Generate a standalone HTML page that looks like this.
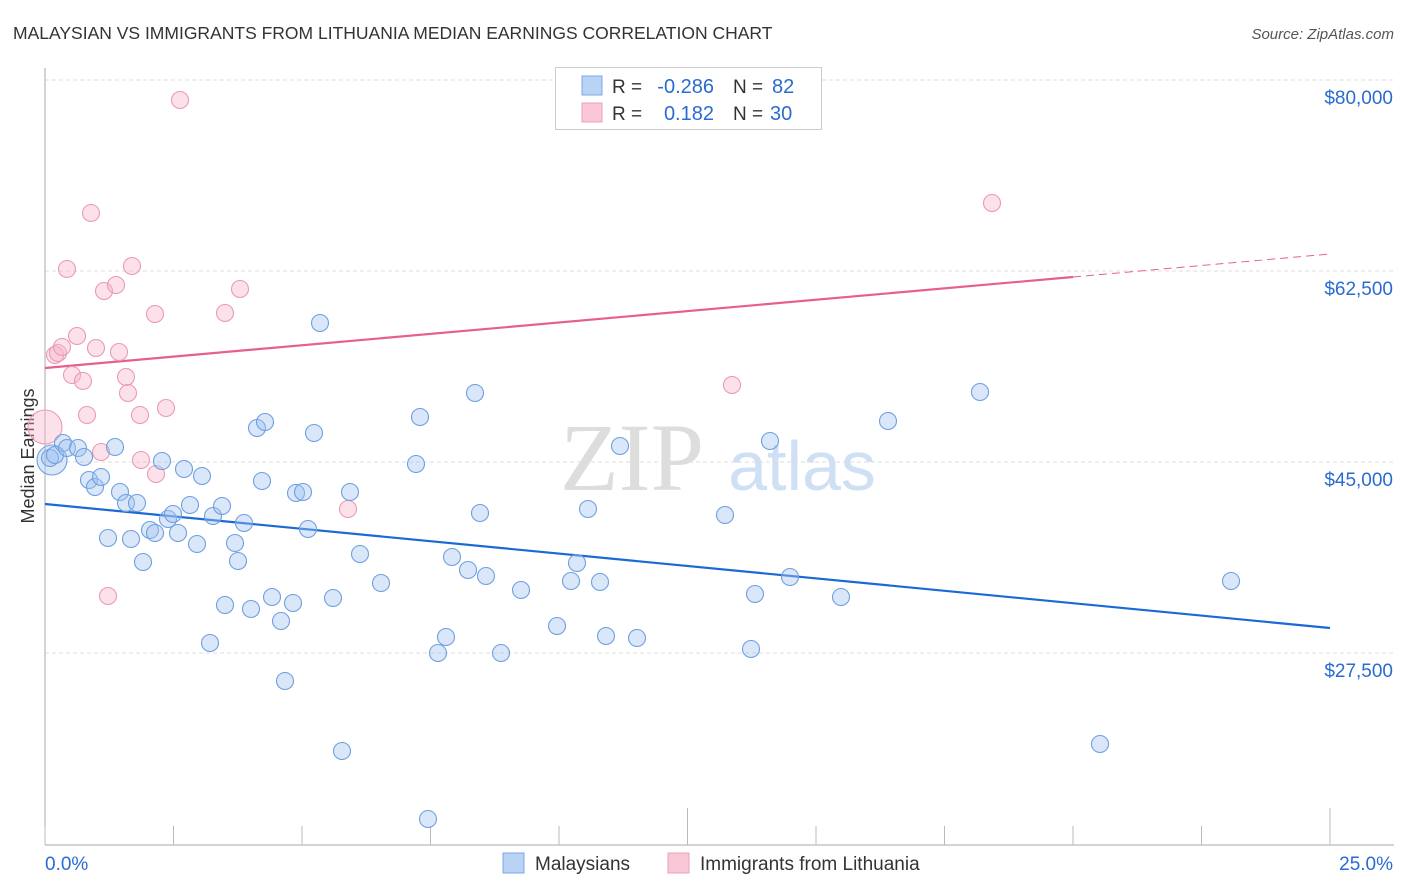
<!DOCTYPE html>
<html><head><meta charset="utf-8"><style>
body{margin:0;background:#fff;font-family:"Liberation Sans",sans-serif;}
svg{display:block}
</style></head><body>
<svg id="chart" width="1406" height="892">
<text x="13" y="39" font-size="17.5" fill="#333">MALAYSIAN VS IMMIGRANTS FROM LITHUANIA MEDIAN EARNINGS CORRELATION CHART</text>
<text x="1394" y="39" font-size="15" fill="#555" font-style="italic" text-anchor="end">Source: ZipAtlas.com</text>
<text x="34" y="456" font-size="18" fill="#333" text-anchor="middle" transform="rotate(-90 34 456)">Median Earnings</text>
<g>
<text x="632" y="490" font-family="Liberation Serif,serif" font-size="96" fill="#ddd" text-anchor="middle">ZIP</text>
<text x="802" y="490" font-size="70" fill="#cfe0f5" text-anchor="middle">atlas</text>
</g>
<g id="grid"></g><g id="axes"></g><g id="trend"></g><g id="pts"></g>
<g>
<rect x="555.5" y="67.5" width="266" height="62" fill="#fff" stroke="#ccc"/>
<rect x="582" y="76" width="20" height="19" fill="#b9d3f5" stroke="#7aa7e6"/>
<rect x="582" y="103" width="20" height="19" fill="#f9c7d6" stroke="#eaa2bb"/>
<text x="612" y="93" font-size="19" fill="#333">R =</text>
<text x="714" y="93" font-size="20" fill="#2a6bd1" text-anchor="end">-0.286</text>
<text x="733" y="93" font-size="19" fill="#333">N =</text>
<text x="772" y="93" font-size="20" fill="#2a6bd1">82</text>
<text x="612" y="120" font-size="19" fill="#333">R =</text>
<text x="714" y="120" font-size="20" fill="#2a6bd1" text-anchor="end">0.182</text>
<text x="733" y="120" font-size="19" fill="#333">N =</text>
<text x="770" y="120" font-size="20" fill="#2a6bd1">30</text>
</g>
<g>
<rect x="503" y="853" width="21" height="20" fill="#b9d3f5" stroke="#7aa7e6"/>
<text x="535" y="870" font-size="19" fill="#333">Malaysians</text>
<rect x="668" y="853" width="21" height="20" fill="#f9c7d6" stroke="#eaa2bb"/>
<text x="700" y="870" font-size="19" fill="#333">Immigrants from Lithuania</text>
</g>
</svg>
<script>
const yTicks=[80000,62500,45000,27500];
const yTickLabels=["$80,000","$62,500","$45,000","$27,500"];
const xTicks=[0,2.5,5,7.5,10,12.5,15,17.5,20,22.5,25];
const xLabels=[["0.0%",0],["25.0%",25]];
// pixel-estimated points, stored as [x%, value]
const bluePx=[[50,458],[55,455],[63,443],[67,448],[78,448],[84,457],[115,447],[89,480],[95,487],[101,477],[120,492],[126,503],[137,503],[108,538],[131,539],[143,562],[150,530],[155,533],[162,461],[168,519],[173,514],[178,533],[184,469],[190,505],[197,544],[202,476],[210,643],[213,516],[222,506],[225,605],[235,543],[238,561],[244,523],[251,609],[257,428],[262,481],[265,422],[272,597],[281,621],[285,681],[293,603],[296,493],[303,492],[308,529],[314,433],[320,323],[333,598],[342,751],[350,492],[360,554],[381,583],[416,464],[420,417],[428,819],[438,653],[446,637],[452,557],[468,570],[475,393],[480,513],[486,576],[501,653],[521,590],[557,626],[571,581],[577,563],[588,509],[600,582],[606,636],[620,446],[637,638],[725,515],[751,649],[755,594],[770,441],[790,577],[841,597],[888,421],[980,392],[1100,744],[1231,581]];
const pinkPx=[[55,355],[58,353],[62,347],[67,269],[72,375],[77,336],[83,381],[87,415],[91,213],[96,348],[101,452],[104,291],[108,596],[116,285],[119,352],[126,377],[128,393],[132,266],[140,415],[141,460],[155,314],[156,474],[166,408],[180,100],[225,313],[240,289],[348,509],[732,385],[992,203]];
const X0=45,X1=1330,Y80=80,PPV=191/17500;
const xs=p=>X0+(X1-X0)*p/25, ys=v=>Y80+(80000-v)*PPV;
const ix=x=>(x-X0)*25/(X1-X0), iv=y=>80000-(y-Y80)/PPV;
const blueX=bluePx.map(d=>ix(d[0])), blueV=bluePx.map(d=>iv(d[1]));
const pinkX=pinkPx.map(d=>ix(d[0])), pinkV=pinkPx.map(d=>iv(d[1]));
const blueBig=[ix(52),iv(460)], pinkBig=[ix(45),iv(427)];
const blueTrend=[[0,iv(504)],[25,iv(628)]];
const pinkTrend=[[0,iv(368)],[20,iv(277)],[25,iv(254)]];
const NS="http://www.w3.org/2000/svg";
function mk(p,t,a){const e=document.createElementNS(NS,t);for(const k in a)e.setAttribute(k,a[k]);p.appendChild(e);return e;}
const grid=document.getElementById('grid'),axes=document.getElementById('axes'),trend=document.getElementById('trend'),pts=document.getElementById('pts');
yTicks.forEach((v,i)=>{
 const l=mk(grid,'line',{x1:X0,x2:1394,y1:ys(v),y2:ys(v),stroke:'#ddd','stroke-dasharray':'4,3'});
 
 
 const t=mk(grid,'text',{x:1393,y:ys(v)+24,'font-size':19,fill:'#2a6bd1','text-anchor':'end'});
 t.textContent=yTickLabels[i];
 
 
});
const ya=mk(axes,'line',{x1:X0,x2:X0,y1:68,y2:845,stroke:'#aaa'});


const xa=mk(axes,'line',{x1:X0,x2:1394,y1:845,y2:845,stroke:'#aaa'});


xTicks.forEach((p,i)=>{
 const tall=(i==5||i==10);
 const t=mk(axes,'line',{x1:xs(p),x2:xs(p),y1:tall?808:826,y2:845,stroke:'#bbb'});
 
 
});
xLabels.forEach(([s,p],i)=>{
 const t=mk(axes,'text',{x:xs(p)+(i==0?0:63),y:870,'font-size':19,fill:'#2a6bd1','text-anchor':i==0?'start':'end'});
 t.textContent=s;
 
 
});
const bl=mk(trend,'line',{x1:xs(blueTrend[0][0]),y1:ys(blueTrend[0][1]),x2:xs(blueTrend[1][0]),y2:ys(blueTrend[1][1]),stroke:'#1a6ad6','stroke-width':2.2});


const pl=mk(trend,'line',{x1:xs(pinkTrend[0][0]),y1:ys(pinkTrend[0][1]),x2:xs(pinkTrend[1][0]),y2:ys(pinkTrend[1][1]),stroke:'#e8608a','stroke-width':2.2});


const pd=mk(trend,'line',{x1:xs(pinkTrend[1][0]),y1:ys(pinkTrend[1][1]),x2:xs(pinkTrend[2][0]),y2:ys(pinkTrend[2][1]),stroke:'#e8608a','stroke-width':1,'stroke-dasharray':'8,5'});


function dot(x,v,r,c,name){
 const f=c=='b'?'rgba(160,195,240,0.4)':'rgba(248,180,202,0.4)';
 const s=c=='b'?'#6f9fe0':'#e99ab5';
 const e=mk(pts,'circle',{cx:xs(x),cy:ys(v),r:r,fill:f,stroke:s,'stroke-width':1.1});
 
 
}
dot(pinkBig[0],pinkBig[1],17,'p','lithuania-point');
pinkX.forEach((x,i)=>dot(x,pinkV[i],8.5,'p','lithuania-point'));
dot(blueBig[0],blueBig[1],15,'b','malaysians-point');
blueX.forEach((x,i)=>dot(x,blueV[i],8.5,'b','malaysians-point'));
</script>
</body></html>
